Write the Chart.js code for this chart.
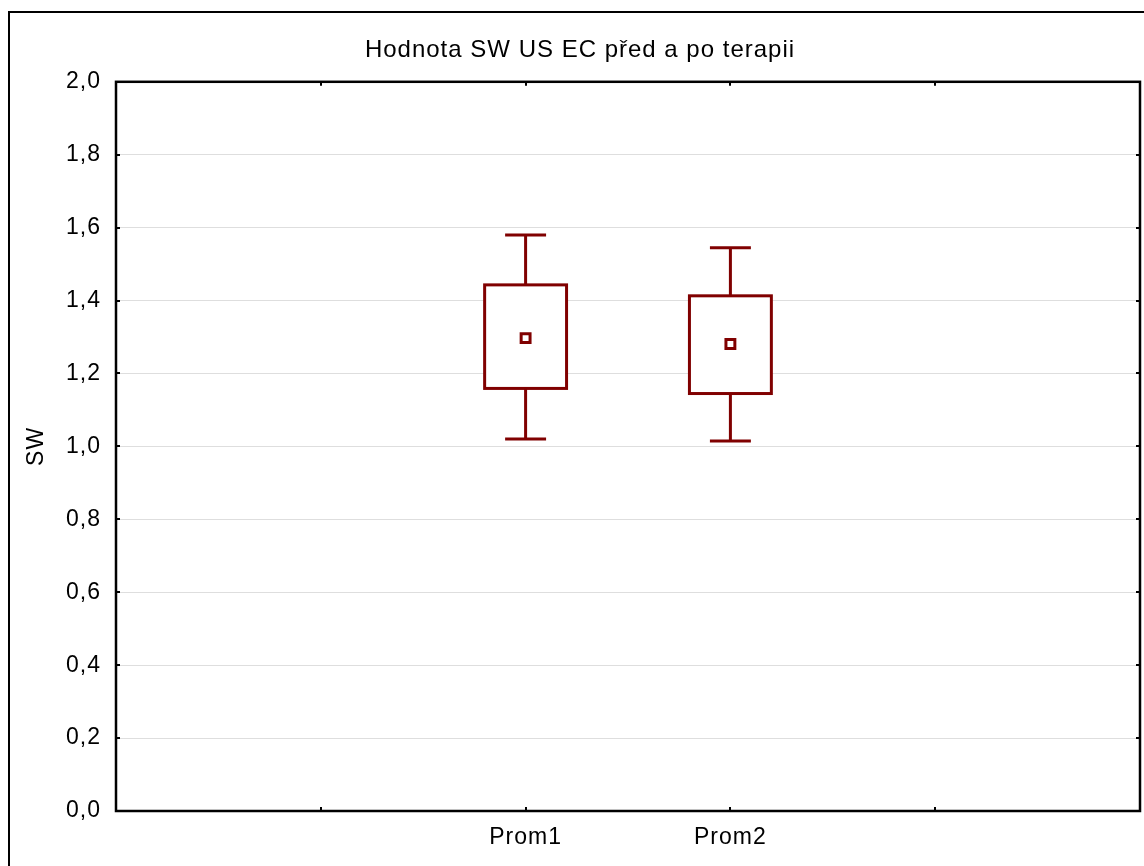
<!DOCTYPE html>
<html>
<head>
<meta charset="utf-8">
<script src="https://cdn.jsdelivr.net/npm/chart.js@4/dist/chart.umd.min.js"></script>
<style>
  html, body { margin: 0; padding: 0; background: #fff; }
  canvas { display: block; }
</style>
</head>
<body>
<canvas id="box-chart" width="1144" height="866"></canvas>
<script>
// box plot data (mean, mean +- SE box, mean +- 1.96 SE whiskers)
var categories = ['Prom1', 'Prom2'];
var means = [1.297, 1.281];
var boxLow = [1.159, 1.145];
var boxHigh = [1.443, 1.413];
var whiskerLow = [1.020, 1.015];
var whiskerHigh = [1.580, 1.545];
// x axis slots: two empty slots either side of the categories
var xLabels = ['', ''].concat(categories, ['', '']);
var yMin = 0, yMax = 2, yStep = 0.2;

var red = '#800000';
var fontFamily = '"Liberation Sans", Arial, sans-serif';

// Statistica style text is spaced out a little
var spacing = {
    id: 'spacing',
    beforeLayout: function (chart) { chart.ctx.letterSpacing = '1px'; },
    beforeDraw: function (chart) { chart.ctx.letterSpacing = '1px'; }
};

// white boxes + whiskers under the mean markers
var boxes = {
    id: 'boxes',
    beforeDatasetsDraw: function (chart) {
        var ctx = chart.ctx, x = chart.scales.x, y = chart.scales.y;
        var unit = x.getPixelForValue(1) - x.getPixelForValue(0);
        ctx.save();
        ctx.strokeStyle = red;
        ctx.lineWidth = 3;
        ctx.lineCap = 'butt';
        categories.forEach(function (c, i) {
            var cx = x.getPixelForValue(xLabels.indexOf(c));
            var bw = unit * 0.2, cw = unit * 0.1;
            var yt = y.getPixelForValue(boxHigh[i]), yb = y.getPixelForValue(boxLow[i]);
            var wt = y.getPixelForValue(whiskerHigh[i]), wb = y.getPixelForValue(whiskerLow[i]);
            ctx.beginPath();
            ctx.moveTo(cx, yt); ctx.lineTo(cx, wt);
            ctx.moveTo(cx - cw, wt); ctx.lineTo(cx + cw, wt);
            ctx.moveTo(cx, yb); ctx.lineTo(cx, wb);
            ctx.moveTo(cx - cw, wb); ctx.lineTo(cx + cw, wb);
            ctx.stroke();
            ctx.fillStyle = '#fff';
            ctx.fillRect(cx - bw, yt, bw * 2, yb - yt);
            ctx.strokeRect(cx - bw, yt, bw * 2, yb - yt);
        });
        ctx.restore();
    }
};

// plot frame with inward ticks on all four sides, and the outer border
var frame = {
    id: 'frame',
    afterDraw: function (chart) {
        var ctx = chart.ctx, a = chart.chartArea, x = chart.scales.x, y = chart.scales.y;
        ctx.save();
        ctx.strokeStyle = '#000';
        ctx.lineWidth = 2.5;
        ctx.strokeRect(a.left, a.top, a.right - a.left, a.bottom - a.top);
        ctx.lineWidth = 2;
        ctx.beginPath();
        y.ticks.forEach(function (t) {
            var py = Math.round(y.getPixelForValue(t.value));
            ctx.moveTo(a.left, py); ctx.lineTo(a.left + 4, py);
            ctx.moveTo(a.right, py); ctx.lineTo(a.right - 4, py);
        });
        for (var i = 1; i < xLabels.length - 1; i++) {
            var px = Math.round(x.getPixelForValue(i));
            ctx.moveTo(px, a.top); ctx.lineTo(px, a.top + 4);
            ctx.moveTo(px, a.bottom); ctx.lineTo(px, a.bottom - 4);
        }
        ctx.stroke();
        ctx.beginPath();
        ctx.moveTo(9, chart.height); ctx.lineTo(9, 12); ctx.lineTo(chart.width, 12);
        ctx.stroke();
        ctx.restore();
    }
};

var ctx = document.getElementById('box-chart').getContext('2d');
var chart = new Chart(ctx, {
    type: 'line',
    data: {
        labels: xLabels,
        datasets: [{
            label: 'Mean',
            data: categories.map(function (c, i) { return { x: c, y: means[i] }; }),
            showLine: false,
            pointStyle: 'rect',
            pointRadius: 6.3,
            pointBorderWidth: 3,
            pointBorderColor: red,
            pointBackgroundColor: '#fff'
        }]
    },
    options: {
        responsive: false,
        animation: false,
        // left padding pushes the centred title right, the y axis is narrowed to match
        layout: { autoPadding: false, padding: { left: 20, right: 4, top: 0, bottom: 0 } },
        plugins: {
            legend: { display: false },
            tooltip: { enabled: false },
            title: {
                display: true,
                text: 'Hodnota SW US EC před a po terapii',
                color: '#000',
                font: { family: fontFamily, size: 24, weight: 'normal' },
                padding: { top: 36, bottom: 17 }
            }
        },
        scales: {
            x: {
                type: 'category',
                offset: false,
                grid: { display: false, drawTicks: false },
                border: { display: false },
                ticks: {
                    color: '#000',
                    padding: 13,
                    autoSkip: false,
                    maxRotation: 0,
                    font: { family: fontFamily, size: 23 }
                },
                afterFit: function (s) {
                    s.height = 55;
                    s.paddingLeft = 0;
                    s.paddingRight = 0;
                }
            },
            y: {
                min: yMin,
                max: yMax,
                grid: { color: '#dedede', lineWidth: 1, drawTicks: false },
                border: { display: false },
                ticks: {
                    stepSize: yStep,
                    color: '#000',
                    padding: 15,
                    font: { family: fontFamily, size: 23 },
                    callback: function (v) { return v.toFixed(1).replace('.', ','); }
                },
                title: {
                    display: true,
                    text: 'SW',
                    color: '#000',
                    font: { family: fontFamily, size: 23 },
                    padding: { top: 3, bottom: 0 }
                },
                afterFit: function (s) { s.width = 96; }
            }
        }
    },
    plugins: [spacing, boxes, frame]
});
</script>
</body>
</html>
